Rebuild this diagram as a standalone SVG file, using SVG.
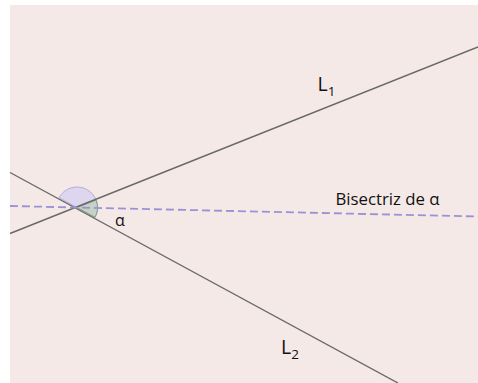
<svg xmlns="http://www.w3.org/2000/svg" width="478" height="383" viewBox="0 0 478 383">
<style>
.line{stroke:#686868;stroke-width:1.4;fill:none}
.bis{stroke:#9a92d4;stroke-width:1.8;stroke-dasharray:8 4;fill:none}
.lbl{font-family:"Open Sans","Liberation Sans",sans-serif;fill:#111111}
</style>
<rect x="0" y="0" width="478" height="383" fill="#ffffff"/>
<rect x="10" y="5" width="468" height="378" fill="#f4e9e6"/>
<g id="angles">
<path d="M77 207.5 L58.98 197.7 A20.5 20.5 0 0 1 95.02 217.3 Z" fill="#ddd6ee" stroke="#b4acdc" stroke-width="1"/>
<path d="M77 207.5 L96.07 200 A20.5 20.5 0 0 1 95.02 217.3 Z" fill="#c6d2c6" stroke="#7f9c80" stroke-width="1"/>
</g>
<g id="connectors">
<line id="L1" class="line" x1="10" y1="233.5" x2="478" y2="47"/>
<line id="L2" class="line" x1="10" y1="172.5" x2="398" y2="383"/>
<line id="bisectriz" class="bis" x1="10" y1="206" x2="478" y2="216.5"/>
</g>
<g id="label-L1"><text class="lbl" x="317.5" y="91" font-size="19.5">L<tspan font-size="13.5" dy="5">1</tspan></text></g>
<g id="label-L2"><text class="lbl" x="281" y="353.5" font-size="19.5">L<tspan font-size="13.5" dy="5">2</tspan></text></g>
<g id="label-bis"><text class="lbl" x="335.5" y="205" font-size="16" textLength="104" lengthAdjust="spacingAndGlyphs">Bisectriz de α</text></g>
<g id="label-alpha"><text class="lbl" x="115" y="225.5" font-size="16">α</text></g>
</svg>
